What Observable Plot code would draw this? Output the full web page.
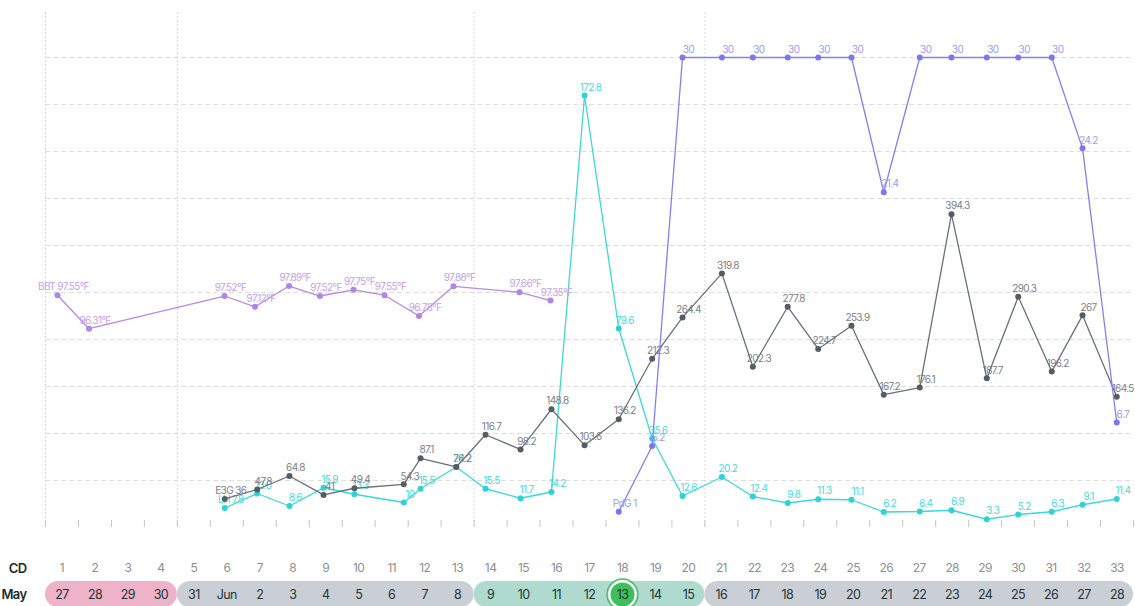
<!DOCTYPE html>
<html><head><meta charset="utf-8">
<script src="https://cdn.jsdelivr.net/npm/d3@7"></script>
<script src="https://cdn.jsdelivr.net/npm/@observablehq/plot@0.6"></script>
<style>
html,body{margin:0;padding:0;background:#fff;overflow:hidden;font-family:Inter,"Noto Sans",sans-serif}
#chart svg{display:block}
#chart text{letter-spacing:-0.6px}
</style></head><body><div id="chart"></div>
<script>
// ---- data ----
const cycleDays = d3.range(1, 34);
const dateLabels = ["27","28","29","30","31","Jun","2","3","4","5","6","7","8","9","10","11","12","13","14","15","16","17","18","19","20","21","22","23","24","25","26","27","28"];
const phaseStart = [1, 5, 14, 21];
const phaseEnd = [4, 13, 20, 33];
const phaseKind = ["period", "follicular", "fertile", "luteal"];
const selectedDay = 18;

const bbtDays = [1, 2, 6, 7, 8, 9, 10, 11, 12, 13, 15, 16];
const bbtHours = [8.7, 7.7, 10.3, 8.5, 9.3, 7.8, 8.2, 6.8, 7.9, 9.0, 9.0, 7.6];
const bbtValues = [97.55, 96.31, 97.52, 97.12, 97.89, 97.52, 97.75, 97.55, 96.78, 97.88, 97.66, 97.35];

const testDays = d3.range(6, 34);
const testHours = [10.5, 10.1, 9.6, 10.4, 8.9, 20.8, 9.0, 11.0, 8.3, 9.8, 8.3, 8.4, 9.3, 9.6, 7.7, 12.4, 10.9, 12.3, 10.5, 10.7, 10.2, 12.4, 11.5, 13.2, 12.1, 12.5, 10.9, 11.8];
const e3gValues = [36, 47.8, 64.8, 41, 49.4, 54.3, 87.1, 76.2, 116.7, 98.2, 148.8, 103.6, 136.2, 212.3, 264.4, 319.8, 202.3, 277.8, 224.7, 253.9, 167.2, 176.1, 394.3, 187.7, 290.3, 196.2, 267, 164.5];
const lhValues = [7.8, 13.6, 8.6, 15.9, 13.3, 10, 15.5, 24.2, 15.5, 11.7, 14.2, 172.8, 79.6, 35.6, 12.6, 20.2, 12.4, 9.8, 11.3, 11.1, 6.2, 6.4, 6.9, 3.3, 5.2, 6.3, 9.1, 11.4];
const pdgDays = d3.range(18, 34);
const pdgValues = [1, 5.2, 30, 30, 30, 30, 30, 30, 21.4, 30, 30, 30, 30, 30, 24.2, 6.7];

// ---- per-series scaling (each series on its own vertical scale) ----
const bbtLo = 88.95, bbtHi = 106.35;
const e3gMax = 591.5, lhMax = 188, pdgMax = 30;

const colors = {
  BBT: {line: "#b58ae8", dot: "#b185e6", text: "#c4a0f0"},
  E3G: {line: "#6a7078", dot: "#565c64", text: "#7b8088"},
  LH:  {line: "#3cd8d6", dot: "#2fd3d3", text: "#45dcdc"},
  PdG: {line: "#8380f1", dot: "#7b77ee", text: "#9d9af5"}
};
const phaseFill = {period: "#eeb3c9", follicular: "#cacfd6", fertile: "#aedbcd", luteal: "#cacfd6"};

const posX = (day, hour) => day - 0.5 + hour / 24;

const bbtRows = bbtDays.map((d, i) => ({
  x: posX(d, bbtHours[i]),
  y: (bbtValues[i] - bbtLo) / (bbtHi - bbtLo),
  label: (i === 0 ? "BBT " : "") + d3.format(".2f")(bbtValues[i]) + "°F"
}));
const e3gRows = testDays.map((d, i) => ({
  x: posX(d, testHours[i]), y: e3gValues[i] / e3gMax,
  label: (i === 0 ? "E3G " : "") + e3gValues[i]
}));
const lhRows = testDays.map((d, i) => ({
  x: posX(d, testHours[i]), y: lhValues[i] / lhMax,
  label: (i === 0 ? "LH " : "") + lhValues[i]
}));
const pdgRows = pdgDays.map((d, i) => ({
  x: posX(d, testHours[testDays.indexOf(d)]), y: pdgValues[i] / pdgMax,
  label: (i === 0 ? "PdG " : "") + pdgValues[i]
}));

function series(rows, c) {
  return [
    Plot.line(rows, {x: "x", y: "y", stroke: c.line, strokeWidth: 1.3}),
    Plot.dot(rows, {x: "x", y: "y", r: 3, fill: c.dot}),
    Plot.text(rows, {x: "x", y: "y", text: "label", dx: 6, dy: -8, fill: c.text, fontSize: 10})
  ];
}

const boundaries = d3.range(0.5, 34, 1);
const phaseLines = phaseStart.map(s => s - 0.5);

const main = Plot.plot({
  width: 1135, height: 545,
  marginTop: 12, marginBottom: 18, marginLeft: 45, marginRight: 2,
  x: {domain: [0.5, 33.5]},
  y: {domain: [0, 515 / 470], axis: null},
  style: {fontFamily: "Inter, sans-serif", background: "#fff"},
  marks: [
    Plot.ruleY(d3.range(1, 11).map(k => k / 10), {stroke: "#dedede", strokeDasharray: "5,3"}),
    Plot.ruleX(phaseLines, {stroke: "#dadada", strokeDasharray: "2,2"}),
    Plot.axisX(boundaries, {tickSize: 7, dy: -7, tickFormat: () => "", stroke: "#c4c4c4", label: null}),
    ...series(lhRows, colors.LH),
    ...series(e3gRows, colors.E3G),
    ...series(pdgRows, colors.PdG),
    ...series(bbtRows, colors.BBT)
  ]
});

const phaseIdx = d3.range(phaseStart.length);
const innerDividers = boundaries.filter(b => b > 0.5 && b < 33.5 && !phaseLines.includes(b));

const bottom = Plot.plot({
  width: 1135, height: 62,
  marginTop: 9, marginBottom: 0, marginLeft: 45, marginRight: 2,
  x: {domain: [0.5, 33.5], axis: null},
  y: {type: "band", domain: ["CD", "date"], padding: 0, axis: null},
  style: {fontFamily: "Inter, sans-serif", background: "#fff", overflow: "visible"},
  marks: [
    ...phaseIdx.map(i => Plot.barX([i], {
      x1: () => phaseStart[i] - 0.5, x2: () => phaseEnd[i] + 0.5, y: () => "date",
      fill: phaseFill[phaseKind[i]], rx: 13
    })),
    Plot.ruleX(innerDividers, {y: () => "date", stroke: "#ffffff", strokeOpacity: 0.45}),
    Plot.dot([selectedDay], {x: d => d, y: () => "date", r: 15.5, fill: "none", stroke: "#3fbf5c", strokeWidth: 1.3}),
    Plot.dot([selectedDay], {x: d => d, y: () => "date", r: 13, fill: "#3fbf5c", stroke: "#ffffff", strokeWidth: 2}),
    Plot.text(cycleDays, {x: d => d, y: () => "CD", text: d => String(d), fill: "#8b9095", fontSize: 12}),
    Plot.text(cycleDays, {x: d => d, y: () => "date", text: d => dateLabels[d - 1], fill: "#263535", fontSize: 12.5}),
    Plot.text(["CD", "May"], {y: (d, i) => ["CD", "date"][i], text: d => d, frameAnchor: "left", dx: -19, textAnchor: "end", fill: "#1c2b2b", fontSize: 13, fontWeight: 600})
  ]
});

const el = document.getElementById("chart");
el.appendChild(main);
el.appendChild(bottom);
</script>
</body></html>
